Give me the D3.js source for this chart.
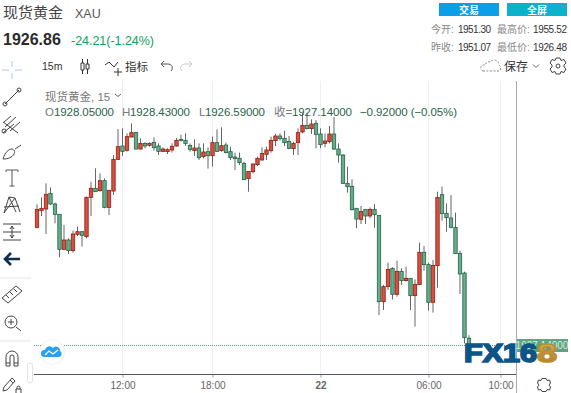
<!DOCTYPE html>
<html>
<head>
<meta charset="utf-8">
<title>XAU</title>
<script src="https://cdn.jsdelivr.net/npm/d3@7/dist/d3.min.js"></script>
<style>
  html, body { margin: 0; padding: 0; background: #fff; overflow: hidden; }
  svg { display: block; }
  text { font-family: "Liberation Sans", "Noto Sans CJK SC", sans-serif; }
</style>
</head>
<body>
<svg id="chart" width="571" height="393"></svg>
<script>
// 15m candles, oldest first
const opens = [1941.91,1944.00,1944.20,1946.16,1944.83,1943.54,1939.16,1940.33,1939.00,1941.04,1941.37,1940.75,1945.66,1946.79,1946.50,1947.75,1944.41,1946.45,1950.41,1952.08,1951.54,1953.20,1953.75,1951.70,1952.41,1952.16,1952.54,1952.08,1951.41,1951.37,1951.58,1952.08,1952.91,1952.79,1952.16,1951.50,1951.83,1950.75,1951.37,1950.87,1952.50,1951.50,1952.20,1951.37,1950.70,1950.54,1949.91,1948.00,1948.87,1949.75,1950.33,1951.04,1951.50,1952.75,1953.33,1953.04,1952.66,1951.75,1952.50,1953.83,1954.66,1954.25,1954.91,1953.58,1952.41,1952.62,1953.58,1951.70,1950.95,1947.41,1947.04,1944.29,1942.91,1944.16,1943.33,1944.16,1943.41,1932.62,1934.50,1936.79,1933.54,1936.41,1935.25,1935.54,1933.37,1934.75,1938.79,1937.25,1932.54,1937.12,1946.00,1943.66,1943.08,1941.91,1938.66,1936.20,1928.05];
const highs = [1944.79,1945.66,1947.41,1946.91,1945.00,1943.54,1942.20,1940.54,1941.50,1942.00,1941.37,1945.75,1947.62,1949.29,1948.66,1948.04,1946.58,1950.95,1954.20,1954.29,1953.66,1954.91,1953.87,1953.04,1952.54,1952.54,1953.16,1952.41,1951.91,1951.79,1952.41,1953.08,1953.50,1953.66,1952.41,1952.91,1952.41,1952.41,1951.91,1953.25,1954.16,1954.41,1952.50,1952.00,1951.25,1951.25,1950.12,1948.95,1949.91,1950.75,1951.91,1952.00,1953.25,1953.58,1953.66,1954.00,1953.33,1952.62,1954.29,1956.20,1956.16,1955.41,1955.33,1954.29,1953.66,1954.58,1955.70,1952.41,1951.08,1949.50,1947.91,1944.29,1944.58,1944.16,1944.41,1944.83,1943.45,1934.70,1937.50,1936.91,1937.75,1936.79,1937.00,1935.54,1935.41,1940.00,1939.58,1937.50,1937.83,1946.37,1947.00,1944.91,1945.95,1943.75,1939.00,1936.37,1928.43];
const lows = [1941.79,1943.33,1941.08,1944.70,1942.41,1938.16,1939.08,1938.58,1938.75,1940.83,1939.50,1940.54,1943.33,1946.37,1946.37,1944.29,1943.45,1945.95,1950.33,1950.83,1951.37,1953.16,1951.66,1951.66,1951.79,1952.00,1951.50,1950.95,1951.37,1951.08,1951.25,1952.00,1952.62,1952.08,1951.37,1950.83,1950.33,1950.54,1949.25,1949.50,1951.33,1951.37,1951.16,1950.33,1949.08,1949.70,1947.83,1946.37,1948.66,1949.58,1950.25,1950.33,1951.25,1952.08,1952.75,1952.08,1951.66,1950.95,1950.95,1953.66,1954.16,1953.58,1951.79,1951.79,1951.91,1952.41,1951.58,1950.00,1947.33,1946.25,1944.00,1941.79,1942.33,1942.33,1943.04,1941.87,1930.95,1931.58,1934.08,1932.91,1933.25,1934.70,1935.16,1931.58,1929.50,1934.70,1936.50,1931.50,1931.25,1934.37,1942.75,1941.37,1941.79,1938.58,1933.58,1927.41,1926.59];
const closes = [1944.16,1944.29,1946.04,1944.83,1943.54,1939.16,1940.33,1939.00,1941.08,1941.37,1940.91,1945.66,1946.79,1946.37,1947.75,1944.41,1946.54,1950.41,1952.00,1951.41,1953.25,1953.75,1951.70,1952.41,1952.08,1952.41,1951.87,1951.41,1951.70,1951.62,1952.04,1952.79,1952.83,1952.41,1951.66,1951.83,1950.62,1951.33,1950.87,1952.50,1951.41,1952.12,1951.25,1950.62,1950.50,1950.00,1947.87,1948.91,1949.83,1950.54,1951.16,1951.58,1952.79,1953.33,1953.00,1952.50,1951.79,1952.41,1953.75,1954.66,1954.25,1954.83,1953.54,1952.25,1952.70,1953.58,1951.70,1950.95,1947.41,1947.00,1944.12,1942.95,1943.91,1943.33,1944.16,1943.50,1932.62,1934.50,1936.66,1933.54,1936.41,1935.25,1935.54,1933.37,1934.79,1938.79,1937.25,1932.54,1937.16,1945.66,1943.62,1943.12,1941.91,1938.62,1936.08,1928.12,1927.14];

const tickIndexes = [19, 39, 63, 87, 103];
const tickLabels = ["12:00", "18:00", "22", "06:00", "10:00"];
const lastClose = 1927.14;

const toolbarIcons = [
  // crosshair, line, fork, brush, T, nodes, measure, arrow, ruler, zoom, magnet, pencil
  { y: 70, c: "#9ccff0", d: "M-10 0H-3M3 0H10M0 -9V-3M0 3V9" },
  { y: 97, c: "#444", d: "M-7 7L7 -7M-9 7a2 2 0 1 0 4 0a2 2 0 1 0 -4 0M5 -7a2 2 0 1 0 4 0a2 2 0 1 0 -4 0" },
  { y: 125, c: "#444", d: "M-8 -3L-1 -9M-7 2L4 -8M-2 6L8 -3M-9 -3L6 8M-10 6a2 2 0 1 0 4 0a2 2 0 1 0 -4 0M-9 8L2 -1" },
  { y: 152, c: "#444", d: "M-9 7C-7 0 -3 -3 0 -3C4 -2 3 3 -1 5C-4 7 -7 7 -9 7ZM3 -3L9 -7" },
  { y: 178, c: "#555", d: "M-6 -6V-8H6V-6M0 -8V8M-2.5 8H2.5" },
  { y: 205, c: "#444", d: "M-8 8L-3 -8L4 7M-8 8L3 -7L8 7M-3 -8L3 -7M-8 2L7 1" },
  { y: 232, c: "#444", d: "M-9 -8H9M-9 8H9M-9 0H9M0 -6V6M-2 -3L0 -6L2 -3M-2 3L0 6L2 3" },
  { y: 259, c: "#0d2e52", w: 2.6, d: "M8 0H-6M-1 -6L-7 0L-1 6" },
  { y: 294, c: "#444", d: "M-10 4L4 -8L10 -3L-4 9ZM-6 1L-3 4M-2 -2L1 1M2 -5L5 -2" },
  { y: 322, c: "#444", d: "M-7 0a6 6 0 1 0 12 0a6 6 0 1 0 -12 0M-4 0H2M-1 -3V3M4 5L9 9" },
  { y: 359, c: "#444", d: "M-6 7V-2A6 6 0 0 1 6 -2V7H2V-2A2 2 0 0 0 -2 -2V7ZM-6 4H-2M2 4H6" },
  { y: 385, c: "#444", d: "M-9 6L-8 2L0 -7L3 -4L-5 5ZM-2 -5L1 -2M4 4h5v5h-5ZM5 4V2.5a1.5 1.5 0 0 1 3 0V4" }
];

const svg = d3.select("#chart");

const x = d3.scaleLinear().domain([0, 1]).range([37, 41.5]);
const y = d3.scaleLinear().domain([lastClose, 1955.33]).range([345.5, 120]);

// --- vertical grid and frame
const chartTop = 81, axisY = 374.5, frameX = 516.5;
svg.append("g").selectAll("line").data(tickIndexes).join("line")
  .attr("x1", d => x(d)).attr("x2", d => x(d))
  .attr("y1", chartTop).attr("y2", axisY)
  .attr("stroke", "#e9f0f7");

// --- last price line
svg.append("line")
  .attr("x1", 34).attr("x2", frameX)
  .attr("y1", y(lastClose)).attr("y2", y(lastClose))
  .attr("stroke", "#5c9d7d").attr("stroke-dasharray", "1,1");

// --- candles
const candles = opens.map((o, i) => ({ i, o, h: highs[i], l: lows[i], c: closes[i] }));
const candle = svg.append("g").selectAll("g").data(candles).join("g");
candle.append("line")
  .attr("x1", d => x(d.i)).attr("x2", d => x(d.i))
  .attr("y1", d => y(d.h)).attr("y2", d => y(d.l))
  .attr("stroke", "#666");
candle.append("rect")
  .attr("x", d => x(d.i) - 1.7).attr("width", 3.4)
  .attr("y", d => y(Math.max(d.o, d.c)))
  .attr("height", d => Math.max(1, Math.abs(y(d.o) - y(d.c))))
  .attr("fill", d => d.c >= d.o ? "#d9503f" : "#66ad88")
  .attr("stroke-width", 0.8)
  .attr("stroke", d => d.c >= d.o ? "#8c1f14" : "#22634a");

// --- time axis
const axis = svg.append("g")
  .attr("transform", `translate(0,${axisY})`)
  .call(d3.axisBottom(x).tickValues(tickIndexes).tickSize(3)
    .tickFormat((d, i) => tickLabels[i]));
axis.select(".domain").remove();
axis.selectAll(".tick line").attr("stroke", "#9a9aa2");
axis.selectAll(".tick text")
  .attr("fill", "#666").attr("font-size", 10).attr("y", 7)
  .attr("font-weight", (d, i) => tickLabels[i] === "22" ? "bold" : null)
  .style("font-family", '"Liberation Sans", sans-serif');
svg.append("line").attr("x1", 34).attr("x2", frameX).attr("y1", axisY).attr("y2", axisY)
  .attr("stroke", "#55555f");
svg.append("line").attr("x1", frameX).attr("x2", frameX).attr("y1", chartTop).attr("y2", 393)
  .attr("stroke", "#a9a9b2");

// --- price tag on the right axis
svg.append("rect").attr("x", 517).attr("y", y(lastClose) - 6.5).attr("width", 51).attr("height", 13)
  .attr("fill", "#5fa380");
svg.append("text").attr("x", 542).attr("y", y(lastClose) + 3.5).attr("text-anchor", "middle")
  .attr("font-size", 10).attr("fill", "#d8ebe1").text("1927.14000");

// --- header
function label(txt, px, py, size, color, extra = {}) {
  const t = svg.append("text").attr("x", px).attr("y", py)
    .attr("font-size", size).attr("fill", color).text(txt);
  Object.entries(extra).forEach(([k, v]) => t.attr(k, v));
  return t;
}
label("现货黄金", 3, 18, 15, "#444");
label("XAU", 75, 18, 12.5, "#555");
label("1926.86", 3, 45, 16, "#2b2b2b", { "font-weight": "bold" });
label("-24.21(-1.24%)", 71, 45, 12.5, "#0aa45c", { textLength: 83 });

svg.append("rect").attr("x", 439).attr("y", 3).attr("width", 60).attr("height", 13).attr("fill", "#0a9fe8");
svg.append("rect").attr("x", 507).attr("y", 3).attr("width", 60).attr("height", 13).attr("fill", "#0cb2cc");
label("交易", 469, 13.5, 10, "#fff", { "text-anchor": "middle", "font-weight": "bold" });
label("全屏", 537, 13.5, 10, "#fff", { "text-anchor": "middle", "font-weight": "bold" });

label("今开:", 431, 33, 10, "#888");
label("1951.30", 458, 33, 10, "#333", { textLength: 33 });
label("最高价:", 497, 33, 10, "#888");
label("1955.52", 533, 33, 10, "#333", { textLength: 34 });
label("昨收:", 431, 51, 10, "#888");
label("1951.07", 458, 51, 10, "#333", { textLength: 33 });
label("最低价:", 497, 51, 10, "#888");
label("1926.48", 533, 51, 10, "#333", { textLength: 34 });

// --- top toolbar
label("15m", 42, 70, 10.5, "#333");
label("指标", 125, 70.5, 11.5, "#333");
label("保存", 504, 71, 12, "#333");

function icon(px, py, d, color, width = 1, dash = null) {
  svg.append("path").attr("transform", `translate(${px},${py})`).attr("d", d)
    .attr("fill", "none").attr("stroke", color).attr("stroke-width", width)
    .attr("stroke-dasharray", dash);
}
icon(85, 66, "M-4 -3H-1V4H-4ZM1 -2H4V3H1ZM-2.5 -7V-3M-2.5 4V8M2.5 -7V-2M2.5 3V8", "#333");
icon(112, 65, "M-7 0L-3 -3L2 2L6 -3M6 3V11M2 7H10", "#333");
icon(166, 66, "M-5 -2H2A4 4 0 0 1 5 5M-2 -5L-5 -2L-2 1", "#555");
icon(187, 66, "M5 -2H-2A4 4 0 0 0 -5 5M2 -5L5 -2L2 1", "#ccc");
icon(491, 66, "M-8 5H8A3.5 3.5 0 0 0 8 -1A5 5 0 0 0 -1 -4A4 4 0 0 0 -6 -1A3 3 0 0 0 -8 5Z", "#888", 1, "2,1.5");
icon(536, 66, "M-3 -1.5L0 1.5L3 -1.5", "#666");
icon(558, 66, "M-2 -8H2L3 -5.5L6 -6.5L8 -3L6 -1V1L8 3L6 6.5L3 5.5L2 8H-2L-3 5.5L-6 6.5L-8 3L-6 1V-1L-8 -3L-6 -6.5L-3 -5.5ZM-2 0a2 2 0 1 0 4 0a2 2 0 1 0 -4 0", "#444");
icon(544, 385, "M-2 -6.5H2L3 -4.5L5.5 -5L6.5 -2L5 0L6.5 2L5.5 5L3 4.5L2 6.5H-2L-3 4.5L-5.5 5L-6.5 2L-5 0L-6.5 -2L-5.5 -5L-3 -4.5Z", "#444");

// --- left drawing tools
toolbarIcons.forEach(t => icon(12, t.y, t.d, t.c, t.w || 1));
[278, 341].forEach(sy => svg.append("line").attr("x1", 0).attr("x2", 31).attr("y1", sy).attr("y2", sy).attr("stroke", "#e4e4e8"));
svg.append("rect").attr("x", 27.5).attr("y", 363).attr("width", 5).attr("height", 20).attr("rx", 2.5)
  .attr("fill", "#fff").attr("stroke", "#e2e2e6");

// --- legend
label("现货黄金, 15", 45, 101, 11.5, "#777");
icon(118, 95, "M-3 -1L0 1.5L3 -1", "#666");
const legendDark = "#2a6349";
label("O", 45, 116, 11.5, "#777");
label("1928.05000", 54, 116, 11.5, legendDark, { textLength: 60 });
label("H", 122, 116, 11.5, "#777");
label("1928.43000", 130, 116, 11.5, legendDark, { textLength: 60 });
label("L", 199, 116, 11.5, "#777");
label("1926.59000", 205, 116, 11.5, legendDark, { textLength: 60 });
label("收=", 274, 116, 11.5, "#777");
label("1927.14000", 292, 116, 11.5, legendDark, { textLength: 60 });
label("−0.92000 (−0.05%)", 360, 116, 11.5, legendDark, { textLength: 97 });

// --- cloud button
svg.append("circle").attr("cx", 52).attr("cy", 352).attr("r", 12.5).attr("fill", "#fff").attr("stroke", "#f0f0f2");
svg.append("path").attr("transform", "translate(52,352)")
  .attr("d", "M-8 5A3.5 3.5 0 0 1 -7 -2A4.5 4.5 0 0 1 1 -4A4 4 0 0 1 8 -1A3.2 3.2 0 0 1 7 5Z")
  .attr("fill", "#2d9fe6");
svg.append("path").attr("transform", "translate(52,352)")
  .attr("d", "M-7 3L-3 -1L1 2L6 -2").attr("fill", "none").attr("stroke", "#fff").attr("stroke-width", 1.3);

// --- watermark
const defs = svg.append("defs");
const gold = defs.append("linearGradient").attr("id", "gold").attr("x1", 0).attr("x2", 0).attr("y1", 0).attr("y2", 1);
gold.append("stop").attr("offset", "0%").attr("stop-color", "#dcb765");
gold.append("stop").attr("offset", "100%").attr("stop-color", "#a8781f");
const logo = svg.append("g").attr("font-weight", "bold").attr("font-size", 25).attr("stroke-width", 1.7);
logo.append("text").attr("x", 464).attr("y", 362).attr("textLength", 73).attr("lengthAdjust", "spacingAndGlyphs")
  .attr("fill", "#0d5489").attr("stroke", "#0d5489").text("FX16");
logo.append("text").attr("x", 537).attr("y", 362).attr("textLength", 20).attr("lengthAdjust", "spacingAndGlyphs")
  .attr("fill", "url(#gold)").attr("stroke", "#bb8e33").text("8");
</script>
</body>
</html>
